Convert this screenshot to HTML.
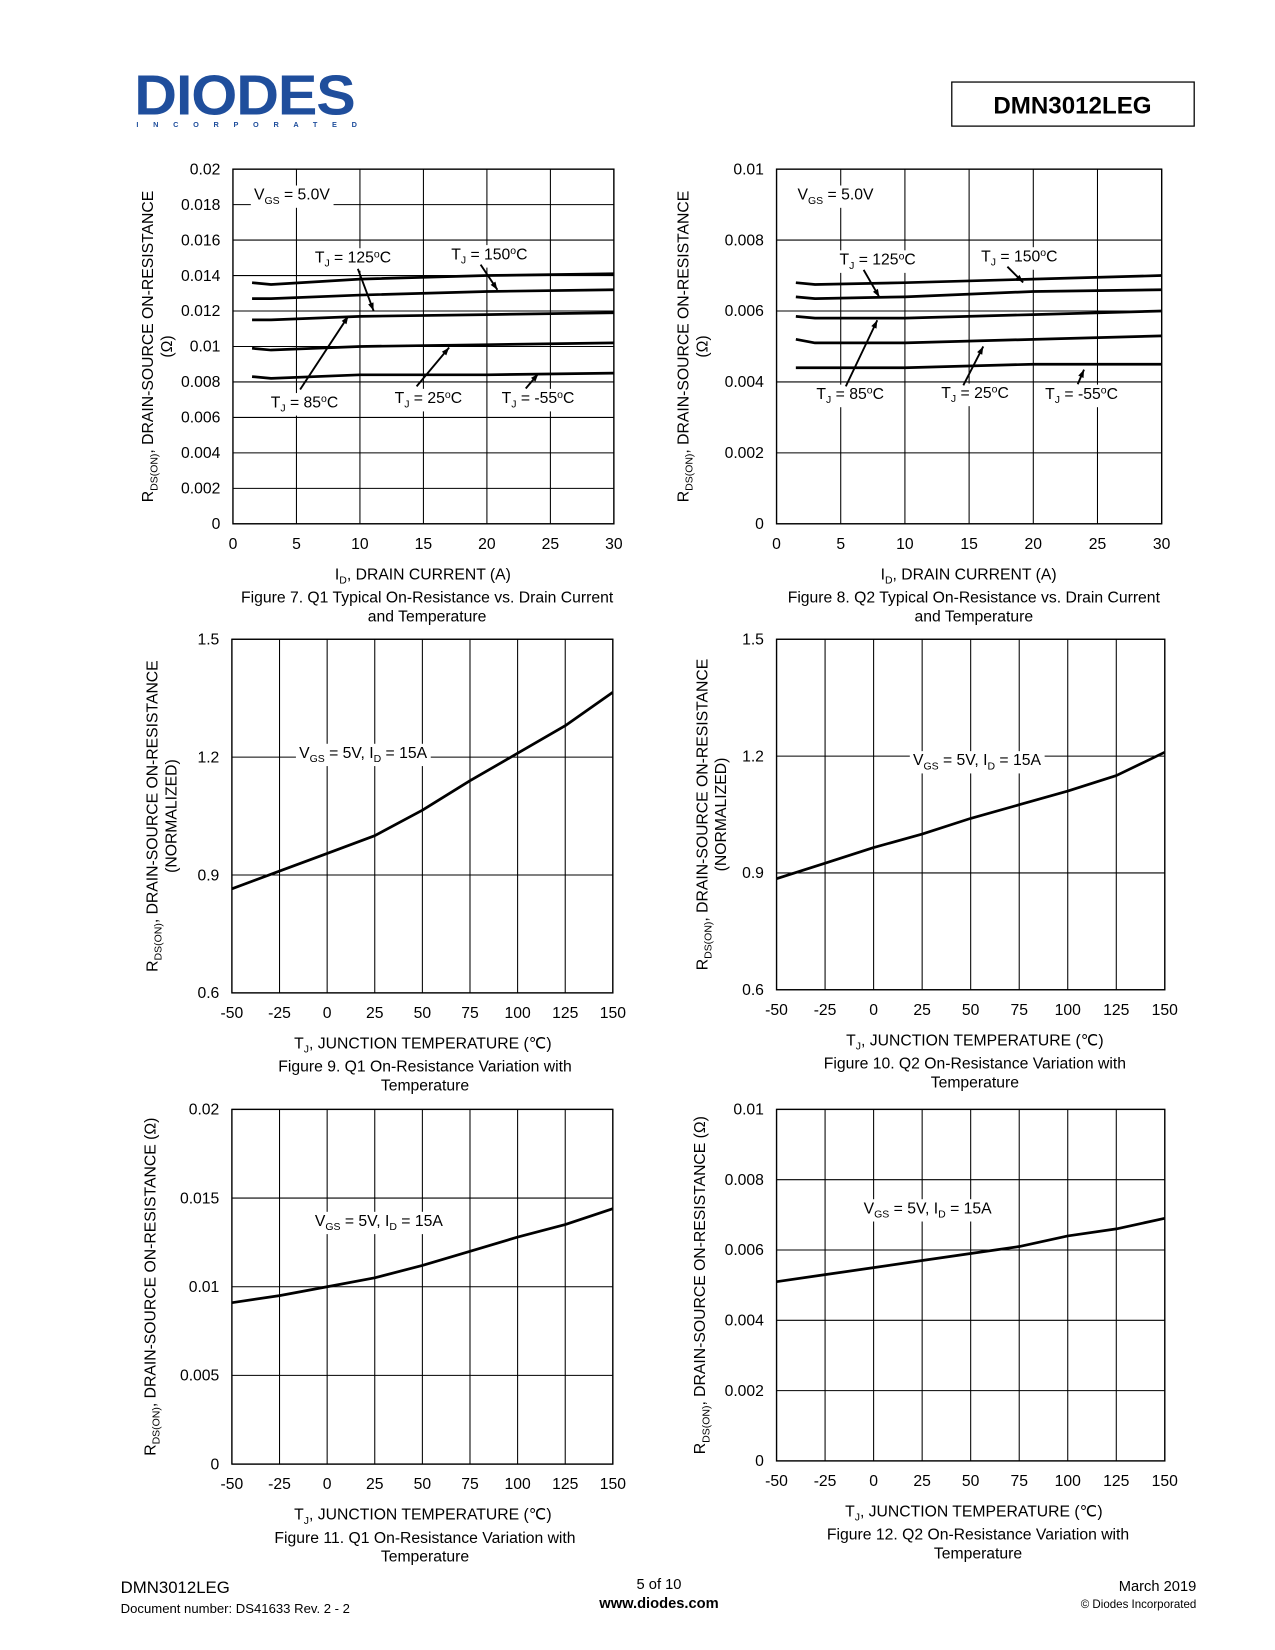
<!DOCTYPE html>
<html><head><meta charset="utf-8"><style>
body{margin:0;background:#fff}
svg{display:block;font-family:"Liberation Sans",Arial,sans-serif}
</style></head><body>
<svg id="pg" width="1275" height="1650" viewBox="0 0 1215 1572" xmlns="http://www.w3.org/2000/svg">
<g>
<text x="128" y="109" font-size="54" font-weight="bold" fill="#1f4e9c" letter-spacing="-1" textLength="210" lengthAdjust="spacingAndGlyphs">DIODES</text>
<text x="130" y="121" font-size="7" font-weight="bold" fill="#1f4e9c" letter-spacing="14">INCORPORATED</text>
<rect x="907" y="78" width="231" height="42" fill="none" stroke="#000" stroke-width="1.2"/>
<text x="1022" y="108" font-size="23" font-weight="bold" text-anchor="middle">DMN3012LEG</text>
</g>
<g>
<text x="115" y="1518" font-size="16">DMN3012LEG</text>
<text x="115" y="1537" font-size="12.5">Document number: DS41633  Rev. 2 - 2</text>
<text x="628" y="1514" font-size="14" text-anchor="middle">5 of 10</text>
<text x="628" y="1532" font-size="14" font-weight="bold" text-anchor="middle">www.diodes.com</text>
<text x="1140" y="1516" font-size="14" text-anchor="end">March 2019</text>
<text x="1140" y="1532" font-size="11" text-anchor="end">© Diodes Incorporated</text>
</g>
</svg>
<script>
// Figure 7 (Q1) & 8 (Q2) : RDS(on) vs ID
const idX = [1.5, 3, 10, 20, 30];
const f7T150 = [0.0136, 0.0135, 0.0138, 0.0140, 0.0141];
const f7T125 = [0.0127, 0.0127, 0.0129, 0.0131, 0.0132];
const f7T85 = [0.0115, 0.0115, 0.0117, 0.0118, 0.0119];
const f7T25 = [0.0099, 0.0098, 0.0100, 0.0101, 0.0102];
const f7Tm55 = [0.0083, 0.0082, 0.0084, 0.0084, 0.0085];
const f8T150 = [0.0068, 0.00675, 0.0068, 0.0069, 0.0070];
const f8T125 = [0.0064, 0.00635, 0.0064, 0.00655, 0.0066];
const f8T85 = [0.00585, 0.0058, 0.0058, 0.0059, 0.0060];
const f8T25 = [0.0052, 0.0051, 0.0051, 0.0052, 0.0053];
const f8Tm55 = [0.0044, 0.0044, 0.0044, 0.0045, 0.0045];
// Figures 9-12 : vs temperature
const tempX = [-50, -25, 0, 25, 50, 75, 100, 125, 150];
const f9Norm = [0.865, 0.91, 0.955, 1.0, 1.065, 1.14, 1.21, 1.28, 1.365];
const f10Norm = [0.885, 0.925, 0.965, 1.0, 1.04, 1.075, 1.11, 1.15, 1.21];
const f11Rds = [0.0091, 0.0095, 0.0100, 0.0105, 0.0112, 0.0120, 0.0128, 0.0135, 0.0144];
const f12Rds = [0.0051, 0.0053, 0.0055, 0.0057, 0.0059, 0.0061, 0.0064, 0.0066, 0.0069];
const idTicks = ['0','5','10','15','20','25','30'];
const tempTicks = ['-50','-25','0','25','50','75','100','125','150'];
const y20Ticks = ['0','0.002','0.004','0.006','0.008','0.01','0.012','0.014','0.016','0.018','0.02'];
const y10Ticks = ['0','0.002','0.004','0.006','0.008','0.01'];
const normTicks = ['0.6','0.9','1.2','1.5'];
const y20bTicks = ['0','0.005','0.01','0.015','0.02'];

const NS = 'http://www.w3.org/2000/svg';
const pg = document.getElementById('pg');
function mk(tag, at, parent){const e=document.createElementNS(NS,tag);for(const k in at)e.setAttribute(k,at[k]);(parent||pg).appendChild(e);return e;}
function txt(parent,x,y,s,size,anchor,extra){const t=mk('text',Object.assign({x:x,y:y,'font-size':size||15,'text-anchor':anchor||'start'},extra||{}),parent);t.innerHTML=s;return t;}

function chart(c){
  const g=mk('g',{});
  
  
  const sx=v=>c.L+(v-c.x0)/(c.x1-c.x0)*(c.R-c.L);
  const sy=v=>c.B-(v-c.y0)/(c.y1-c.y0)*(c.B-c.T);
  const n=c.xt.length, m=c.yt.length;
  for(let i=0;i<n;i++){const v=c.x0+i*(c.x1-c.x0)/(n-1);const l=mk('line',{x1:sx(v),x2:sx(v),y1:c.T,y2:c.B,stroke:'#000','stroke-width':1},g);
    const t=txt(g,sx(v),c.B+24,c.xt[i],15,'middle');}
  for(let j=0;j<m;j++){const v=c.y0+j*(c.y1-c.y0)/(m-1);const l=mk('line',{x1:c.L,x2:c.R,y1:sy(v),y2:sy(v),stroke:'#000','stroke-width':1},g);
    const t=txt(g,c.L-12,sy(v)+5,c.yt[j],15,'end');}
  mk('rect',{x:c.L,y:c.T,width:c.R-c.L,height:c.B-c.T,fill:'none',stroke:'#000','stroke-width':1.3},g);
  c.series.forEach(s=>{
    let d='';s.ys.forEach((y,i)=>{d+=(i?'L':'M')+sx(s.xs[i]).toFixed(1)+','+sy(y).toFixed(1);});
    const p=mk('path',{d:d,fill:'none',stroke:'#000','stroke-width':2.6,'stroke-linejoin':'round'},g);
    
    
  });
  (c.labels||[]).forEach(a=>{
    const t=txt(g,a.x,a.y,a.s,15,'start');
    
    
    const bb=t.getBBox();
    const r=mk('rect',{x:bb.x-3,y:bb.y-1,width:bb.width+6,height:bb.height+2,fill:'#fff'},g);
    g.insertBefore(r,t);
    if(a.ax){mk('line',{x1:a.ax,y1:a.ay,x2:a.bx,y2:a.by,stroke:'#000','stroke-width':1.8},g);
      const ang=Math.atan2(a.by-a.ay,a.bx-a.ax),h=8;
      mk('polygon',{points:`${a.bx},${a.by} ${a.bx-h*Math.cos(ang-0.35)},${a.by-h*Math.sin(ang-0.35)} ${a.bx-h*Math.cos(ang+0.35)},${a.by-h*Math.sin(ang+0.35)}`,fill:'#000'},g);}
  });
  const yc=(c.T+c.B)/2+c.ydy;
  c.ytitle.forEach((s,i)=>{const t=txt(g,0,0,s,15,'middle',{transform:`translate(${c.ytx+i*18},${yc}) rotate(-90)`});});
  const xt=txt(g,c.xtx,c.B+53,c.xtitle,15,'middle');
  c.cap.forEach((s,i)=>{const t=txt(g,c.capx,c.B+75+i*18,s,15,'middle');});
}
const sub=s=>`<tspan font-size="10" dy="4">${s}</tspan><tspan dy="-4">`;
const TJ=v=>`T${sub('J')} = ${v}<tspan font-size="10" dy="-5">o</tspan><tspan dy="5">C</tspan></tspan>`;
const VGS=`V${sub('GS')} = 5.0V</tspan>`;
const VGS2=`V${sub('GS')} = 5V, I</tspan>${sub('D')} = 15A</tspan>`;
const rds=`R${sub('DS(ON)')},  DRAIN-SOURCE ON-RESISTANCE</tspan>`;
const rds1=`R${sub('DS(ON)')}, DRAIN-SOURCE ON-RESISTANCE (Ω)</tspan>`;
const idT=`I${sub('D')}, DRAIN CURRENT (A)</tspan>`;
const tjT=`T${sub('J')}, JUNCTION TEMPERATURE (℃)</tspan>`;

chart({name:'figure-7-chart',L:222,R:585,T:161,B:499,x0:0,x1:30,y0:0,y1:0.02,xt:idTicks,yt:y20Ticks,
 series:[{name:'series-tj-150',xs:idX,ys:f7T150},{name:'series-tj-125',xs:idX,ys:f7T125},{name:'series-tj-85',xs:idX,ys:f7T85},{name:'series-tj-25',xs:idX,ys:f7T25},{name:'series-tj-m55',xs:idX,ys:f7Tm55}],
 labels:[{x:242,y:190,s:VGS},{x:300,y:250,s:TJ('125'),ax:341,ay:256,bx:356,by:296},{x:430,y:247,s:TJ('150'),ax:458,ay:252,bx:474,by:276},
 {x:258,y:388,s:TJ('85'),ax:286,ay:371,bx:332,by:301},{x:376,y:384,s:TJ('25'),ax:397,ay:368,bx:428,by:331},{x:478,y:384,s:TJ('-55'),ax:501,ay:370,bx:513,by:356}],
 ytitle:[rds,'(Ω)'],ytx:146,ydy:0,xtitle:idT,xtx:403,capx:407,cap:['Figure 7. Q1 Typical On-Resistance vs. Drain Current','and Temperature']});
chart({name:'figure-8-chart',L:740,R:1107,T:161,B:499,x0:0,x1:30,y0:0,y1:0.01,xt:idTicks,yt:y10Ticks,
 series:[{name:'series-tj-150',xs:idX,ys:f8T150},{name:'series-tj-125',xs:idX,ys:f8T125},{name:'series-tj-85',xs:idX,ys:f8T85},{name:'series-tj-25',xs:idX,ys:f8T25},{name:'series-tj-m55',xs:idX,ys:f8Tm55}],
 labels:[{x:760,y:190,s:VGS},{x:800,y:252,s:TJ('125'),ax:823,ay:257,bx:838,by:283},{x:935,y:249,s:TJ('150'),ax:960,ay:254,bx:975,by:269},
 {x:778,y:380,s:TJ('85'),ax:806,ay:368,bx:836,by:305},{x:897,y:379,s:TJ('25'),ax:918,ay:367,bx:937,by:330},{x:996,y:380,s:TJ('-55'),ax:1027,ay:366,bx:1033,by:352}],
 ytitle:[rds,'(Ω)'],ytx:656,ydy:0,xtitle:idT,xtx:923,capx:928,cap:['Figure 8. Q2 Typical On-Resistance vs. Drain Current','and Temperature']});
chart({name:'figure-9-chart',L:221,R:584,T:609,B:946,x0:-50,x1:150,y0:0.6,y1:1.5,xt:tempTicks,yt:normTicks,
 series:[{name:'series-normalized-rds',xs:tempX,ys:f9Norm}],labels:[{x:285,y:722,s:VGS2}],
 ytitle:[rds,'(NORMALIZED)'],ytx:150,ydy:0,xtitle:tjT,xtx:403,capx:405,cap:['Figure 9. Q1 On-Resistance Variation with','Temperature']});
chart({name:'figure-10-chart',L:740,R:1110,T:609,B:943,x0:-50,x1:150,y0:0.6,y1:1.5,xt:tempTicks,yt:normTicks,
 series:[{name:'series-normalized-rds',xs:tempX,ys:f10Norm}],labels:[{x:870,y:729,s:VGS2}],
 ytitle:[rds,'(NORMALIZED)'],ytx:674,ydy:0,xtitle:tjT,xtx:929,capx:929,cap:['Figure 10. Q2 On-Resistance Variation with','Temperature']});
chart({name:'figure-11-chart',L:221,R:584,T:1057,B:1395,x0:-50,x1:150,y0:0,y1:0.02,xt:tempTicks,yt:y20bTicks,
 series:[{name:'series-rds',xs:tempX,ys:f11Rds}],labels:[{x:300,y:1168,s:VGS2}],
 ytitle:[rds1],ytx:148,ydy:0,xtitle:tjT,xtx:403,capx:405,cap:['Figure 11. Q1 On-Resistance Variation with','Temperature']});
chart({name:'figure-12-chart',L:740,R:1110,T:1057,B:1392,x0:-50,x1:150,y0:0,y1:0.01,xt:tempTicks,yt:y10Ticks,
 series:[{name:'series-rds',xs:tempX,ys:f12Rds}],labels:[{x:823,y:1156,s:VGS2}],
 ytitle:[rds1],ytx:672,ydy:0,xtitle:tjT,xtx:928,capx:932,cap:['Figure 12. Q2 On-Resistance Variation with','Temperature']});
</script>
</body></html>
